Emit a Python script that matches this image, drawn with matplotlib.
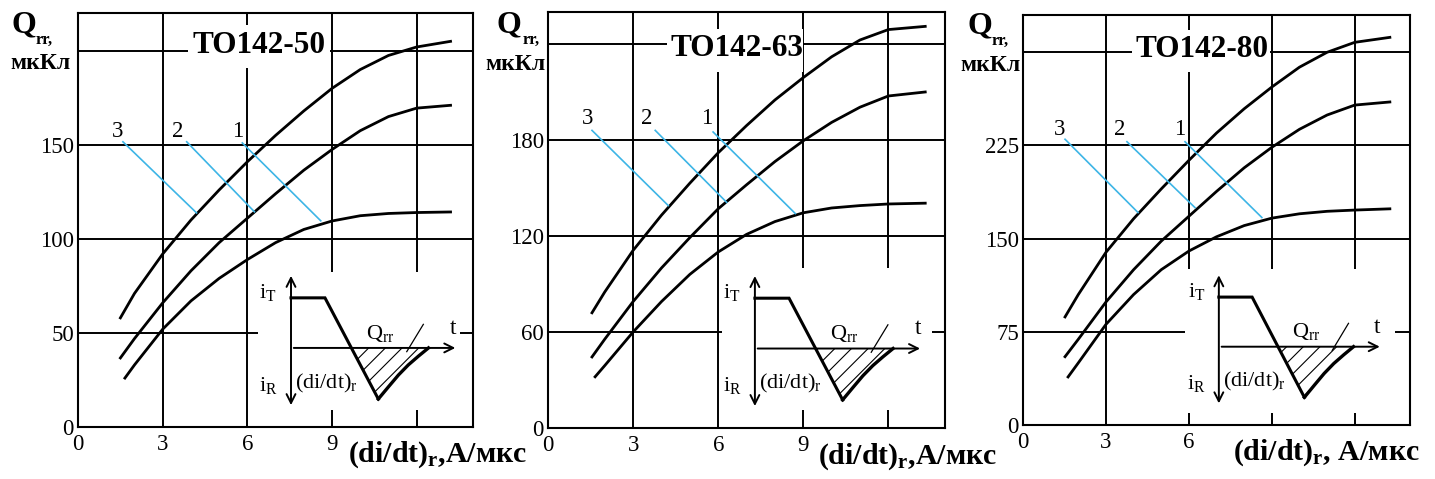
import matplotlib
matplotlib.use("Agg")
import matplotlib.pyplot as plt
from matplotlib.patches import Rectangle, Polygon

plt.rcParams['font.family'] = ['Liberation Serif', 'DejaVu Serif']
plt.rcParams['mathtext.fontset'] = 'custom'
plt.rcParams['mathtext.rm'] = 'Liberation Serif'
plt.rcParams['mathtext.it'] = 'Liberation Serif:italic'
plt.rcParams['mathtext.bf'] = 'Liberation Serif:bold'
plt.rcParams['hatch.linewidth'] = 0.8

# ---- data ----
titles = ['TO142-50', 'TO142-63', 'TO142-80']
y_max = [220, 260, 330]
y_grid = [[0, 50, 100, 150, 200], [0, 60, 120, 180, 240], [0, 75, 150, 225, 300]]
y_labels = [['0', '50', '100', '150', ''], ['0', '60', '120', '180', ''],
            ['0', '75', '150', '225', '']]
x_grid = [0, 3, 6, 9, 12]
x_labels = [['0', '3', '6', '9', ''], ['0', '3', '6', '9', ''], ['0', '3', '6', '', '']]

# curve 1 (lowest), 2, 3 (highest) for each device
p1_x1 = [1.66, 2, 3, 4, 5, 6, 7, 8, 9, 10, 11, 12, 13.2]
p1_q1 = [26, 33, 52, 67, 79, 89, 98, 105, 109.5, 112.3, 113.5, 114, 114.3]
p1_x23 = [1.5, 2, 3, 4, 5, 6, 7, 8, 9, 10, 11, 12, 13.2]
p1_q2 = [36.7, 47, 66, 83, 98, 111, 124, 136.5, 147.5, 157.5, 165, 169.5, 171]
p1_q3 = [58, 71, 92, 110, 126, 141, 155, 168, 180, 190, 197.5, 202, 205]

p2_x1 = [1.66, 2, 3, 4, 5, 6, 7, 8, 9, 10, 11, 12, 13.3]
p2_q1 = [32, 39, 60, 79, 96, 110, 121, 129, 134.5, 137.5, 139, 140, 140.5]
p2_x23 = [1.55, 2, 3, 4, 5, 6, 7, 8, 9, 10, 11, 12, 13.3]
p2_q2 = [44.4, 55.5, 79, 100, 119, 137, 152, 166.5, 179.5, 191, 200.5, 207.5, 210]
p2_q3 = [72, 85, 111, 133, 153, 172, 189, 205, 219, 232, 242.5, 249, 251]

p3_x1 = [1.63, 2, 3, 4, 5, 6, 7, 8, 9, 10, 11, 12, 13.27]
p3_q1 = [38.7, 50, 81, 105, 125, 140, 151.5, 160.5, 166.5, 170, 172, 173, 174]
p3_x23 = [1.52, 2, 3, 4, 5, 6, 7, 8, 9, 10, 11, 12, 13.27]
p3_q2 = [55, 69, 99, 125, 148, 168, 188, 207, 223.5, 238, 249.5, 257.5, 260]
p3_q3 = [87, 105, 139, 166, 190, 213, 235, 254.5, 272, 288, 300, 308, 312]

curves = [
    [(p1_x1, p1_q1), (p1_x23, p1_q2), (p1_x23, p1_q3)],
    [(p2_x1, p2_q1), (p2_x23, p2_q2), (p2_x23, p2_q3)],
    [(p3_x1, p3_q1), (p3_x23, p3_q2), (p3_x23, p3_q3)],
]

# curve number labels "3","2","1": text position, leader start, leader end
label_names = ['3', '2', '1']
label_pos = [
    [(1.41, 157), (3.53, 157), (5.65, 157)],
    [(1.38, 193.7), (3.49, 193.7), (5.6, 193.7)],
    [(1.34, 238), (3.5, 238), (5.67, 238)],
]
leader_start = [
    [(1.59, 151.6), (3.85, 151.6), (5.82, 151)],
    [(1.55, 186), (3.78, 186), (5.82, 185)],
    [(1.52, 230), (3.76, 228), (5.86, 228)],
]
leader_end = [
    [(4.2, 113.8), (6.25, 114.4), (8.6, 109.6)],
    [(4.24, 139), (6.3, 141), (8.72, 134)],
    [(4.16, 171), (6.22, 175), (8.64, 167)],
]

# ---- layout (figure fractions) ----
axes_rect = [
    [0.0544, 0.1086, 0.2753, 0.8640],
    [0.3819, 0.1065, 0.2767, 0.8685],
    [0.7129, 0.1127, 0.2697, 0.8560],
]
title_box = [(0.278, 0.867, 0.36, 0.104), (0.30, 0.856, 0.342, 0.104),
             (0.282, 0.861, 0.356, 0.102)]
title_xy = [(0.458, 0.922), (0.476, 0.913), (0.463, 0.915)]
inset_box = [(0.456, 0.041, 0.511, 0.333), (0.438, 0.043, 0.529, 0.342),
             (0.419, 0.029, 0.542, 0.351)]
inset_x0 = [0.539, 0.521, 0.506]
q_xy = [(-0.137, 0.954), (-0.098, 0.95), (-0.111, 0.956)]
qsub_xy = [(-0.108, 0.936), (-0.065, 0.932), (-0.080, 0.938)]
unit_xy = [(-0.096, 0.879), (-0.083, 0.873), (-0.085, 0.876)]
xlab_xy = [(0.684, -0.068), (0.68, -0.07), (0.543, -0.068)]
xlab_txt = [r'$\mathbf{(di/dt)_r}$,A/мкс', r'$\mathbf{(di/dt)_r}$,A/мкс',
            r'$\mathbf{(di/dt)_r}$, A/мкс']

# schematic of the reverse recovery waveform (offsets from arrow axis, axes fraction)
wave_dx = [0.0, 0.086, 0.221]
wave_y = [0.312, 0.312, 0.0676]
rec_dx = [0.221, 0.247, 0.272, 0.297, 0.323, 0.348]
rec_y = [0.0676, 0.0974, 0.1256, 0.150, 0.1715, 0.191]
t_axis_y = 0.191

fig = plt.figure(figsize=(14.35, 4.79), dpi=100)

for i in range(3):
    ax = fig.add_axes(axes_rect[i])
    ax.set_xlim(0, 14)
    ax.set_ylim(0, y_max[i])
    ax.set_xticks(x_grid)
    ax.set_xticklabels(x_labels[i])
    ax.set_yticks(y_grid[i])
    ax.set_yticklabels(y_labels[i])
    ax.tick_params(length=0, labelsize=16.5)
    ax.tick_params(axis='x', pad=5)
    ax.tick_params(axis='y', pad=3)
    ax.grid(True, color='black', lw=1.4)
    ax.set_axisbelow(True)
    for s in ax.spines.values():
        s.set_linewidth(1.5)

    for (xs, qs) in curves[i]:
        ax.plot(xs, qs, color='black', lw=2.0, zorder=3, solid_joinstyle='round')

    for name, (tx, ty), (sx, sy), (ex, ey) in zip(label_names, label_pos[i],
                                                  leader_start[i], leader_end[i]):
        ax.text(tx, ty, name, fontsize=16.5, ha='center', va='center', zorder=4)
        ax.plot([sx, ex], [sy, ey], color='#3db5e6', lw=1.2, zorder=4)

    # title with white background
    bx, by, bw, bh = title_box[i]
    ax.add_patch(Rectangle((bx, by), bw, bh, transform=ax.transAxes,
                           facecolor='white', edgecolor='none', zorder=2))
    ax.text(title_xy[i][0], title_xy[i][1], titles[i], transform=ax.transAxes,
            fontsize=22.5, fontweight='bold', ha='center', va='center', zorder=4)

    # inset schematic
    bx, by, bw, bh = inset_box[i]
    ax.add_patch(Rectangle((bx, by), bw, bh, transform=ax.transAxes,
                           facecolor='white', edgecolor='none', zorder=2))
    x0 = inset_x0[i]
    tr = ax.transAxes
    ax.annotate('', xy=(x0, 0.372), xytext=(x0, 0.046), xycoords=tr,
                arrowprops=dict(arrowstyle='<->', lw=1.4, color='black',
                                mutation_scale=16), zorder=5)
    ax.annotate('', xy=(x0 + 0.423, t_axis_y), xytext=(x0, t_axis_y), xycoords=tr,
                arrowprops=dict(arrowstyle='->', lw=1.4, color='black',
                                mutation_scale=16), zorder=5)
    ax.plot([x0 + d for d in wave_dx], wave_y, transform=tr, color='black',
            lw=2.2, zorder=5, solid_joinstyle='miter')
    ax.plot([x0 + d for d in rec_dx], rec_y, transform=tr, color='black',
            lw=2.4, zorder=5, solid_joinstyle='round')
    ax.plot([x0 + 0.293, x0 + 0.335], [0.182, 0.248], transform=tr,
            color='black', lw=0.9, zorder=5)
    hatch_pts = [(x0 + 0.153, t_axis_y)] + [(x0 + d, y) for d, y in zip(rec_dx, rec_y)]
    ax.add_patch(Polygon(hatch_pts, closed=True, transform=tr, facecolor='none',
                         edgecolor='black', lw=0, hatch='//', zorder=4))
    ax.text(x0 - 0.058, 0.326, r'$\mathrm{i_T}$', transform=tr, fontsize=16,
            ha='center', va='center', zorder=5)
    ax.text(x0 - 0.058, 0.101, r'$\mathrm{i_R}$', transform=tr, fontsize=16,
            ha='center', va='center', zorder=5)
    ax.text(x0 + 0.011, 0.106, r'$\mathrm{(di/dt)_r}$', transform=tr, fontsize=16,
            ha='left', va='center', zorder=5)
    ax.text(x0 + 0.226, 0.227, r'$\mathrm{Q_{rr}}$', transform=tr, fontsize=16,
            ha='center', va='center', zorder=5)
    ax.text(x0 + 0.41, 0.239, 't', transform=tr, fontsize=17,
            ha='center', va='center', zorder=5)

    # axis titles
    ax.text(q_xy[i][0], q_xy[i][1], 'Q', transform=tr, fontsize=23,
            fontweight='bold', ha='center', va='baseline', clip_on=False)
    ax.text(qsub_xy[i][0], qsub_xy[i][1], 'rr,', transform=tr, fontsize=12,
            fontweight='bold', ha='left', va='center', clip_on=False)
    ax.text(unit_xy[i][0], unit_xy[i][1], 'мкКл', transform=tr, fontsize=17,
            fontweight='bold', ha='center', va='center', clip_on=False)
    ax.text(xlab_xy[i][0], xlab_xy[i][1], xlab_txt[i], transform=tr, fontsize=21.5,
            fontweight='bold', ha='left', va='center', clip_on=False)

fig.savefig('out.png', dpi=100)
